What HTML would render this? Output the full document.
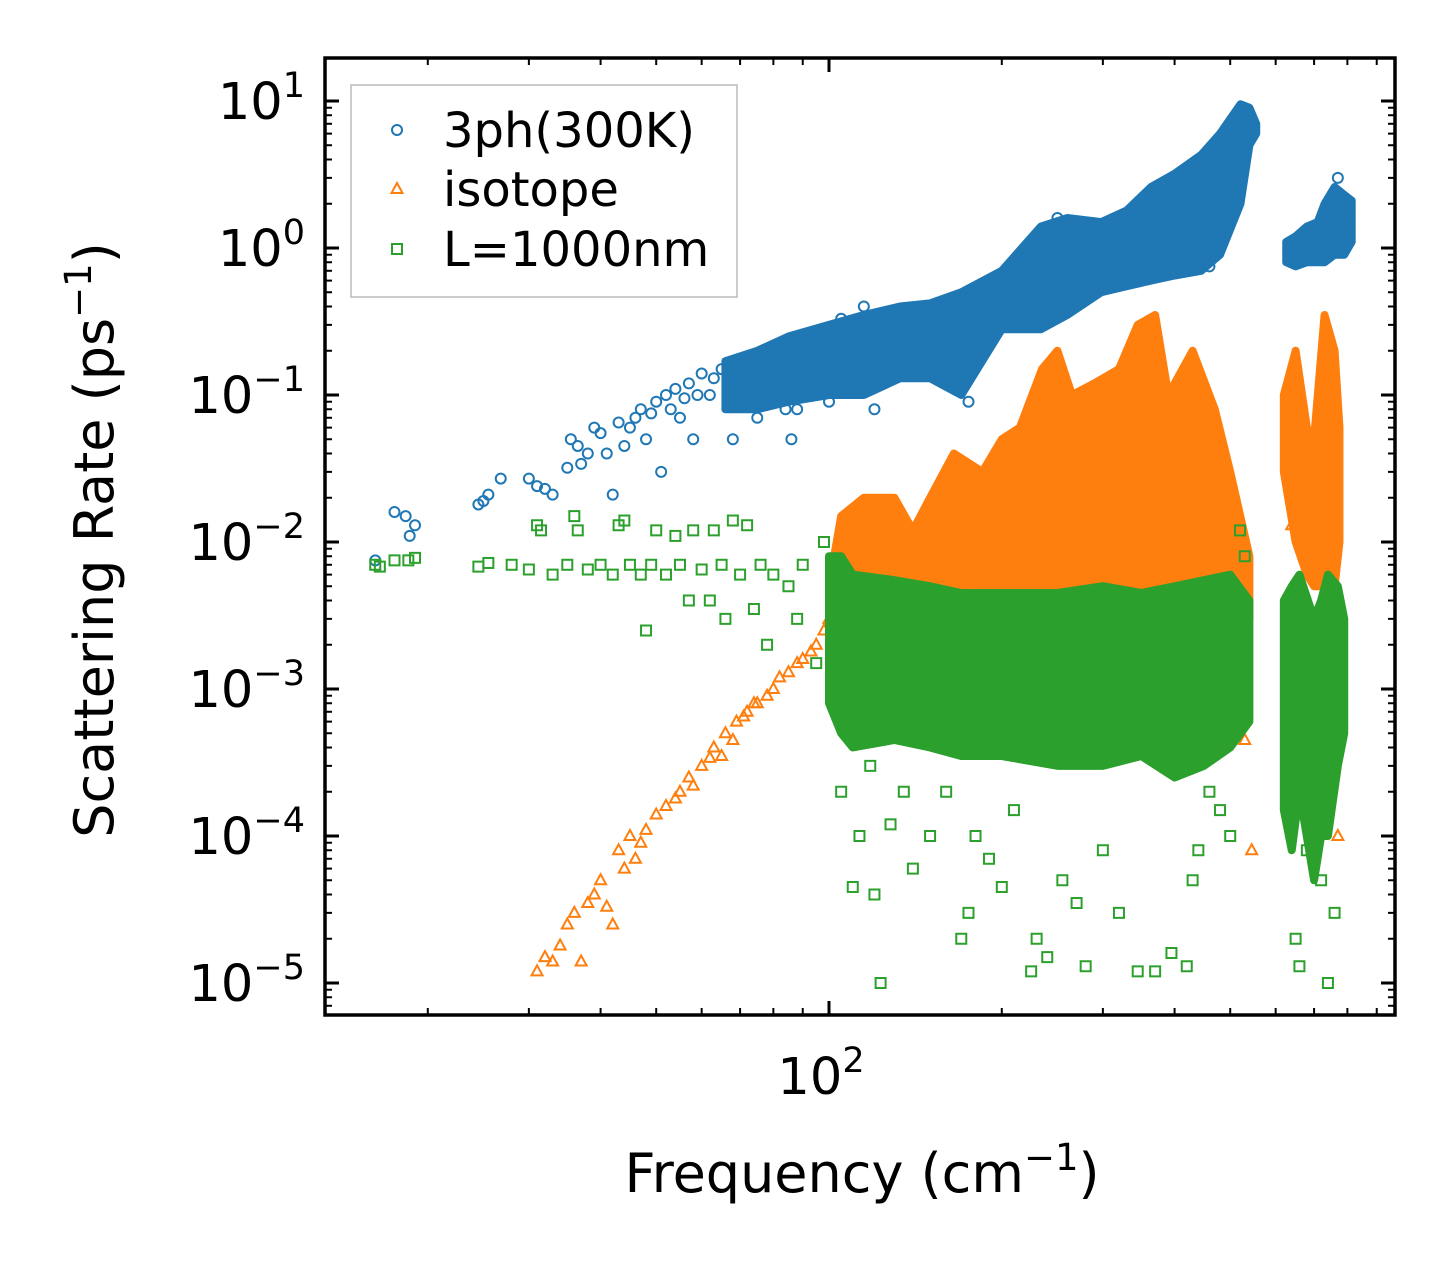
<!DOCTYPE html>
<html><head><meta charset="utf-8">
<style>
body{margin:0;background:#fff;}
svg text{font-family:"DejaVu Sans","Liberation Sans",sans-serif;fill:#000;}
</style></head>
<body>
<svg id="chart" width="1455" height="1265" xmlns="http://www.w3.org/2000/svg">
<rect width="1455" height="1265" fill="#fff"/>
<g id="marks"></g>
<g id="axes"></g>
</svg>
<script>
// ---- data ----
const blueScatter = [[16.2,0.0075],[17.5,0.016],[18.3,0.015],[18.6,0.011],[19,0.013],[24.5,0.018],[25,0.019],[25.5,0.021],[26.8,0.027],[30,0.027],[31,0.024],[32,0.023],[33,0.021],[35,0.032],[35.5,0.05],[36.5,0.045],[37,0.034],[38,0.04],[39,0.06],[40,0.055],[41,0.04],[42,0.021],[43,0.065],[44,0.045],[45,0.06],[46,0.07],[47,0.08],[48,0.05],[49,0.075],[50,0.09],[51,0.03],[52,0.1],[53,0.08],[54,0.11],[55,0.07],[56,0.095],[57,0.12],[58,0.05],[59,0.1],[60,0.14],[62,0.1],[63,0.13],[65,0.15],[68,0.05],[70,0.12],[72,0.16],[75,0.07],[78,0.1],[80,0.18],[84,0.08],[86,0.05],[88,0.08],[92,0.1],[95,0.2],[100,0.09],[105,0.33],[115,0.4],[120,0.08],[175,0.09],[250,1.6],[340,0.7],[460,0.75],[770,3.0]];
const blueBandF  = [66,75,85,100,115,133,150,170,200,234,260,298,330,364,400,445,480,521,540,555];
const blueBandLo = [0.08,0.08,0.09,0.1,0.1,0.13,0.13,0.1,0.28,0.28,0.35,0.5,0.55,0.6,0.65,0.7,0.9,2.0,5.0,6.0];
const blueBandHi = [0.17,0.2,0.25,0.3,0.35,0.4,0.42,0.5,0.7,1.4,1.6,1.5,1.8,2.6,3.2,4.3,6.0,9.5,9.0,7.0];
const blueBand2F  = [626,650,680,710,730,760,790,814];
const blueBand2Lo = [0.8,0.75,0.8,0.8,0.8,0.9,0.9,1.1];
const blueBand2Hi = [1.1,1.2,1.4,1.5,2.0,2.6,2.3,2.1];

const orangeScatter = [[31,1.2e-5],[32,1.5e-5],[33,1.4e-5],[34,1.8e-5],[35,2.5e-5],[36,3e-5],[37,1.4e-5],[38,3.5e-5],[39,4e-5],[40,5e-5],[41,3.3e-5],[42,2.5e-5],[43,8e-5],[44,6e-5],[45,1e-4],[46,7e-5],[47,9e-5],[48,1.1e-4],[50,1.4e-4],[52,1.6e-4],[54,1.8e-4],[55,2e-4],[57,2.5e-4],[58,2.2e-4],[60,3e-4],[62,3.4e-4],[63,4e-4],[65,3.5e-4],[66,5e-4],[68,4.5e-4],[69,6e-4],[71,6.5e-4],[72,7e-4],[74,8e-4],[75,8e-4],[78,9e-4],[80,1e-3],[82,1.2e-3],[85,1.3e-3],[88,1.5e-3],[90,1.6e-3],[93,1.8e-3],[95,2e-3],[98,2.5e-3],[100,3e-3],[545,8e-5],[530,4.5e-4],[770,1e-4],[650,5e-3],[640,0.013]];
const orangeBandF  = [100,105,115,130,140,150,165,185,200,215,235,250,265,290,320,345,370,390,430,470,500,540];
const orangeBandLo = [2e-3,2e-3,3e-3,3e-3,3e-3,3e-3,3e-3,3e-3,3e-3,3e-3,4e-3,4e-3,4e-3,4e-3,3e-3,4e-3,4e-3,3e-3,4e-3,3e-3,3e-3,3e-3];
const orangeBandHi = [5e-3,1.5e-2,2e-2,2e-2,1.2e-2,2e-2,4e-2,3e-2,5e-2,6e-2,0.15,0.2,0.1,0.12,0.15,0.3,0.35,0.1,0.2,0.08,0.03,8e-3];
const orangeBand2F  = [620,650,680,700,730,760,775];
const orangeBand2Lo = [0.03,0.01,6e-3,5e-3,5e-3,5e-3,0.01];
const orangeBand2Hi = [0.1,0.2,0.06,0.05,0.35,0.2,0.06];

const greenScatter = [[16.2,7e-3],[16.5,6.8e-3],[17.5,7.5e-3],[18.5,7.5e-3],[19,7.8e-3],[24.5,6.8e-3],[25.5,7.2e-3],[28,7e-3],[30,6.5e-3],[31,0.013],[31.5,0.012],[33,6e-3],[35,7e-3],[36,0.015],[36.5,0.012],[38,6.5e-3],[40,7e-3],[42,6e-3],[43,0.013],[44,0.014],[45,7e-3],[47,6e-3],[48,2.5e-3],[49,7e-3],[50,0.012],[52,6e-3],[54,0.011],[55,7e-3],[57,4e-3],[58,0.012],[60,6.5e-3],[62,4e-3],[63,0.012],[65,7e-3],[66,3e-3],[68,0.014],[70,6e-3],[72,0.013],[74,3.5e-3],[76,7e-3],[78,2e-3],[80,6e-3],[85,5e-3],[88,3e-3],[90,7e-3],[95,1.5e-3],[98,0.01],[105,2e-4],[110,4.5e-5],[113,1e-4],[118,3e-4],[120,4e-5],[123,1e-5],[128,1.2e-4],[135,2e-4],[140,6e-5],[150,1e-4],[160,2e-4],[170,2e-5],[175,3e-5],[180,1e-4],[190,7e-5],[200,4.5e-5],[210,1.5e-4],[225,1.2e-5],[230,2e-5],[240,1.5e-5],[255,5e-5],[270,3.5e-5],[280,1.3e-5],[300,8e-5],[320,3e-5],[345,1.2e-5],[370,1.2e-5],[395,1.6e-5],[420,1.3e-5],[430,5e-5],[440,8e-5],[460,2e-4],[480,1.5e-4],[500,1e-4],[650,2e-5],[660,1.3e-5],[680,8e-5],[720,5e-5],[740,1e-5],[760,3e-5],[520,0.012],[530,8e-3]];
const greenBandF  = [100,105,110,130,150,170,200,250,300,350,400,450,500,540];
const greenBandLo = [8e-4,5e-4,4e-4,4.5e-4,4e-4,3.5e-4,3.5e-4,3e-4,3e-4,3.5e-4,2.5e-4,3e-4,4e-4,6e-4];
const greenBandHi = [8e-3,8e-3,6e-3,5.5e-3,5e-3,4.5e-3,4.5e-3,4.5e-3,5e-3,4.5e-3,5e-3,5.5e-3,6e-3,4e-3];
const greenBand2F  = [620,640,660,700,720,740,770,790];
const greenBand2Lo = [1.5e-4,8e-5,2e-4,5e-5,1e-4,1e-4,3e-4,5e-4];
const greenBand2Hi = [4e-3,5e-3,6e-3,3e-3,4e-3,6e-3,5e-3,3e-3];

const yTickExps = [1,0,-1,-2,-3,-4,-5];
const xMinorTicks = [20,30,40,50,60,70,80,90,200,300,400,500,600,700,800,900];

// ---- axes ----
const L=325,R=1395,T=58,B=1015;
function sx(f){return 829+574*(Math.log10(f)-2);}
function sy(v){return 248-147*Math.log10(v);}
const NS="http://www.w3.org/2000/svg";
const marks=document.getElementById('marks'), axes=document.getElementById('axes');
function mk(tag,attrs,parent){const e=document.createElementNS(NS,tag);for(const k in attrs)e.setAttribute(k,attrs[k]);parent.appendChild(e);return e;}

const C={b:'#1f77b4',o:'#ff7f0e',g:'#2ca02c'};
function band(F,Lo,Hi,col,name){
  let pts=F.map((f,i)=>sx(f)+','+sy(Hi[i]));
  for(let i=F.length-1;i>=0;i--)pts.push(sx(F[i])+','+sy(Lo[i]));
  const p=mk('polygon',{points:pts.join(' '),fill:col,stroke:col,'stroke-width':8,'stroke-linejoin':'round'},marks);
  
  
}
function marker(type,x,y,col,parent){
  let e;
  if(type==='c') e=mk('circle',{cx:x,cy:y,r:5,fill:'none',stroke:col,'stroke-width':2},parent);
  else if(type==='t') e=mk('polygon',{points:`${x},${y-6} ${x-5.5},${y+4} ${x+5.5},${y+4}`,fill:'none',stroke:col,'stroke-width':2},parent);
  else e=mk('rect',{x:x-5,y:y-5,width:10,height:10,fill:'none',stroke:col,'stroke-width':2},parent);
  return e;
}
band(blueBandF,blueBandLo,blueBandHi,C.b,'3ph-band');
band(blueBand2F,blueBand2Lo,blueBand2Hi,C.b,'3ph-band-high');
blueScatter.forEach(d=>{const e=marker('c',sx(d[0]),sy(d[1]),C.b,marks);

});
band(orangeBandF,orangeBandLo,orangeBandHi,C.o,'isotope-band');
band(orangeBand2F,orangeBand2Lo,orangeBand2Hi,C.o,'isotope-band-high');
orangeScatter.forEach(d=>{const e=marker('t',sx(d[0]),sy(d[1]),C.o,marks);

});
band(greenBandF,greenBandLo,greenBandHi,C.g,'boundary-band');
band(greenBand2F,greenBand2Lo,greenBand2Hi,C.g,'boundary-band-high');
greenScatter.forEach(d=>{const e=marker('s',sx(d[0]),sy(d[1]),C.g,marks);

});

// frame
const fr=mk('rect',{x:L,y:T,width:R-L,height:B-T,fill:'none',stroke:'#000','stroke-width':3.5},axes);


// y ticks
yTickExps.forEach(e=>{
  const y=sy(Math.pow(10,e));
  mk('line',{x1:L,x2:L+14,y1:y,y2:y,stroke:'#000','stroke-width':3},axes);
  mk('line',{x1:R,x2:R-14,y1:y,y2:y,stroke:'#000','stroke-width':3},axes);
  const t=mk('text',{x:305,y:y+18,'font-size':51,'text-anchor':'end'},axes);
  
  
  t.innerHTML='10<tspan dy="-22" font-size="35">'+(e<0?'\u2212'+(-e):e)+'</tspan>';
  for(let m=2;m<=9;m++){
    const ym=sy(m*Math.pow(10,e-1));
    if(ym>T&&ym<B){
      mk('line',{x1:L,x2:L+7,y1:ym,y2:ym,stroke:'#000','stroke-width':2},axes);
      mk('line',{x1:R,x2:R-7,y1:ym,y2:ym,stroke:'#000','stroke-width':2},axes);
    }
  }
});
// x ticks
const x0=sx(100);
mk('line',{x1:x0,x2:x0,y1:B,y2:B-14,stroke:'#000','stroke-width':3},axes);
mk('line',{x1:x0,x2:x0,y1:T,y2:T+14,stroke:'#000','stroke-width':3},axes);
const xt=mk('text',{x:x0-8,y:1094,'font-size':51,'text-anchor':'middle'},axes);


xt.innerHTML='10<tspan dy="-22" font-size="35">2</tspan>';
xMinorTicks.forEach(f=>{const x=sx(f);
  mk('line',{x1:x,x2:x,y1:B,y2:B-7,stroke:'#000','stroke-width':2},axes);
  mk('line',{x1:x,x2:x,y1:T,y2:T+7,stroke:'#000','stroke-width':2},axes);
});
// axis titles
const xl=mk('text',{x:862,y:1192,'font-size':54,'text-anchor':'middle'},axes);


xl.innerHTML='Frequency (cm<tspan dy="-22" font-size="37">\u22121</tspan><tspan dy="22">)</tspan>';
const yl=mk('text',{x:0,y:0,'font-size':54,'text-anchor':'middle',transform:'translate(113,540) rotate(-90)'},axes);


yl.innerHTML='Scattering Rate (ps<tspan dy="-22" font-size="37">\u22121</tspan><tspan dy="22">)</tspan>';
// legend
const lg=mk('g',{},axes);


mk('rect',{x:351,y:85,width:386,height:212,fill:'#fff','fill-opacity':0.8,stroke:'#bbb','stroke-width':1.5},lg);
[['c','3ph(300K)',C.b,130],['t','isotope',C.o,189],['s','L=1000nm',C.g,249]].forEach(r=>{
  const e=marker(r[0],397,r[3],r[2],lg);
  
  
  const t=mk('text',{x:443,y:r[3]+17,'font-size':48},lg);
  
  
  t.textContent=r[1];
});
</script>
</body></html>
